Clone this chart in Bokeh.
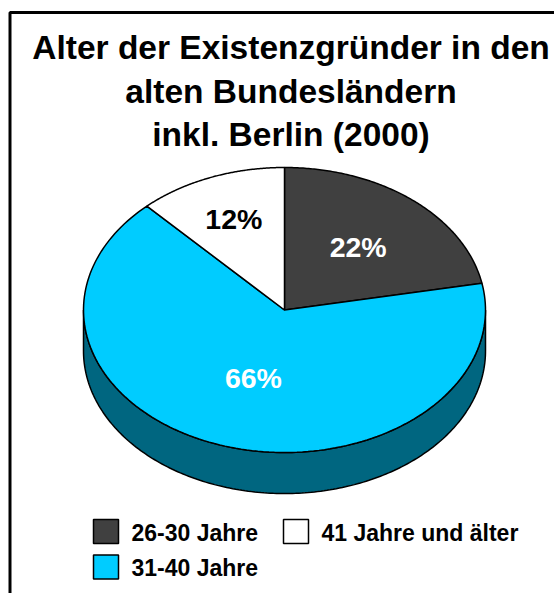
import numpy as np
from bokeh.plotting import figure
from bokeh.models import Range1d
from bokeh.core.properties import value
from bokeh.embed import file_html
from bokeh.resources import INLINE

# ---- data ----
categories = ["26-30 Jahre", "31-40 Jahre", "41 Jahre und älter"]
shares = [22, 66, 12]
slice_colors = ["#404040", "#00CCFF", "#FFFFFF"]
label_colors = ["white", "white", "black"]
title_lines = ["Alter der Existenzgründer in den", "alten Bundesländern", "inkl. Berlin (2000)"]

# ---- layout ----
W, H = 554, 593
FONT = "Liberation Sans"
p = figure(width=W, height=H, x_range=Range1d(0, W), y_range=Range1d(H, 0),
           output_backend="svg", toolbar_location=None, min_border=0)
p.axis.visible = False
p.grid.visible = False
p.outline_line_color = None
p.background_fill_color = "white"

# frame (extends beyond visible area)
p.quad(left=[9.5], right=[572], top=[12], bottom=[640], fill_color=None,
       line_color="black", line_width=3)

# title
ty = [47, 91, 134]
p.text(x=[290.5] * 3, y=ty, text=title_lines, text_font=value(FONT), text_font_style="bold",
       text_font_size="33.5px", text_align="center", text_baseline="middle", text_color="black")

# pie geometry
cx, cy, rx, ry, depth = 284, 309.5, 201, 142.5, 41

def ell(t):
    return cx + rx * np.sin(t), cy - ry * np.cos(t)

# side
t = np.linspace(np.pi / 2, 3 * np.pi / 2, 200)
xs_top, ys_top = ell(t)
side_x = np.concatenate([xs_top, xs_top[::-1]])
side_y = np.concatenate([ys_top, ys_top[::-1] + depth])
p.patch(side_x, side_y, fill_color="#006680", line_color="black", line_width=1.5)

# top wedges
vals = np.array(shares, dtype=float)
cum = np.concatenate([[0], np.cumsum(vals)]) / vals.sum() * 2 * np.pi
wx, wy = [], []
for a0, a1 in zip(cum[:-1], cum[1:]):
    tt = np.linspace(a0, a1, 150)
    ex, ey = ell(tt)
    wx.append(np.concatenate([[cx], ex, [cx]]).tolist())
    wy.append(np.concatenate([[cy], ey, [cy]]).tolist())
p.patches(wx, wy, fill_color=slice_colors, line_color="black", line_width=1.5)

# labels
fracs = [0.575, 0.5, 0.685]
mids = (cum[:-1] + cum[1:]) / 2
lx = [cx + f * rx * np.sin(m) for f, m in zip(fracs, mids)]
ly = [cy - f * ry * np.cos(m) for f, m in zip(fracs, mids)]
p.text(x=lx, y=ly, text=[f"{v}%" for v in shares], text_color=label_colors,
       text_font=value(FONT), text_font_style="bold", text_font_size="28.5px",
       text_align="center", text_baseline="middle")

# legend
leg_x = [105.5, 105.5, 295.5]
leg_y = [531, 566.5, 531]
p.rect(x=leg_x, y=leg_y, width=25, height=24, fill_color=slice_colors,
       line_color="black", line_width=1.5)
p.text(x=[v + 25.5 for v in leg_x], y=[v + 1 for v in leg_y], text=categories,
       text_font=value(FONT), text_font_style="bold", text_font_size="23px",
       text_align="left", text_baseline="middle", text_color="black")

open("out.html", "w").write(file_html(p, INLINE))
